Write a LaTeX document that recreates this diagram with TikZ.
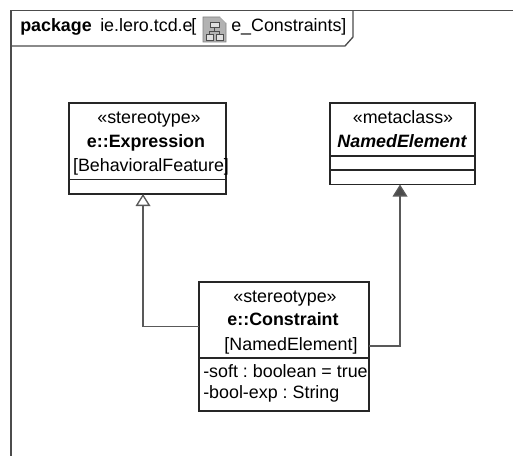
\documentclass[tikz,border=0pt]{standalone}
\usepackage{fontspec}
\setmainfont{Liberation Sans}
\usepackage{tikz}
\usetikzlibrary{calc,positioning,arrows.meta}

\begin{document}
\frenchspacing
\begin{tikzpicture}[x=0.75pt,y=-0.75pt,
  box/.style={draw=black!85,line width=.9pt,fill=white},
  sep/.style={draw=black!85,line width=.9pt},
  lbl/.style={inner sep=0pt,anchor=base,font=\fontsize{13.4pt}{15pt}\selectfont,text=black},
  link/.style={draw=black!65,line width=1pt},
  gen/.style={link,-{Triangle[open,fill=white,length=9pt,width=11pt]}},
  assoc/.style={link,-{Triangle[fill=black!70,length=9pt,width=11pt]}}]
  \useasboundingbox (0,0) rectangle (513,456);

  % frame
  \draw[draw=black!70,line width=1pt] (513,10.5) -- (11,10.5) -- (11,456);
  \draw[draw=black!70,line width=1pt] (11,46) -- (345,46) -- (353,37) -- (353,10.5);
  \node[lbl,anchor=base west] (kw) at (20,32) {\textbf{package}};
  \node[lbl,anchor=base west] (pkg) at (100,32) {ie.lero.tcd.e};
  \node[lbl,anchor=base west] (brk) at (191,32) {[};
  \node[lbl,anchor=base west] (nm) at (231,32) {e\_Constraints]};
  % icon
  \draw[draw=black!50,fill=black!30] (203,17) -- (220,17) -- (226,23) -- (226,42) -- (203,42) -- cycle;
  \fill[white] (220,17) -- (226,17) -- (226,23) -- cycle;
  \draw[draw=black!70,fill=black!12] (210,22) rectangle (219,27);
  \draw[draw=black!70,fill=black!12] (206,34) rectangle (213,40);
  \draw[draw=black!70,fill=black!12] (216,34) rectangle (223,40);
  \draw[draw=black!70] (214.5,27) -- (214.5,31) (209.5,34) -- (209.5,31) -- (219.5,31) -- (219.5,34);

  % classes
  \draw[box] (69,103) rectangle (226,194);
  \coordinate (expr) at (143,194);
  \draw[sep] (69,179.5) -- (226,179.5);
  \node[lbl] (exprs) at (149,123) {«stereotype»};
  \node[lbl,font=\fontsize{13.4pt}{15pt}\selectfont\bfseries] (exprn) at (146,147) {e::Expression};
  \node[lbl] (exprb) at (151,171) {[BehavioralFeature]};

  \draw[box] (330,103) rectangle (475,184.5);
  \coordinate (named) at (400,184.5);
  \draw[sep] (330,156) -- (475,156);
  \draw[sep] (330,170) -- (475,170);
  \node[lbl] (nameds) at (403,123) {«metaclass»};
  \node[lbl,font=\fontsize{13.4pt}{15pt}\selectfont\bfseries\itshape] (namedn) at (402,147) {NamedElement};

  \draw[box] (199,282) rectangle (369,411);
  \coordinate (conw) at (199,326.5);
  \coordinate (cone) at (369,346);
  \draw[sep] (199,358) -- (369,358);
  \node[lbl] (cons) at (285,302) {«stereotype»};
  \node[lbl,font=\fontsize{13.4pt}{15pt}\selectfont\bfseries] (conn) at (283,325) {e::Constraint};
  \node[lbl] (conb) at (291,350) {[NamedElement]};
  \node[lbl,anchor=base west] (soft) at (203,377) {-soft : boolean = true};
  \node[lbl,anchor=base west] (bexp) at (203,398) {-bool-exp : String};

  % connectors
  \draw[gen] (conw) -| (expr);
  \draw[assoc] (cone) -| (named);
\end{tikzpicture}
\end{document}
